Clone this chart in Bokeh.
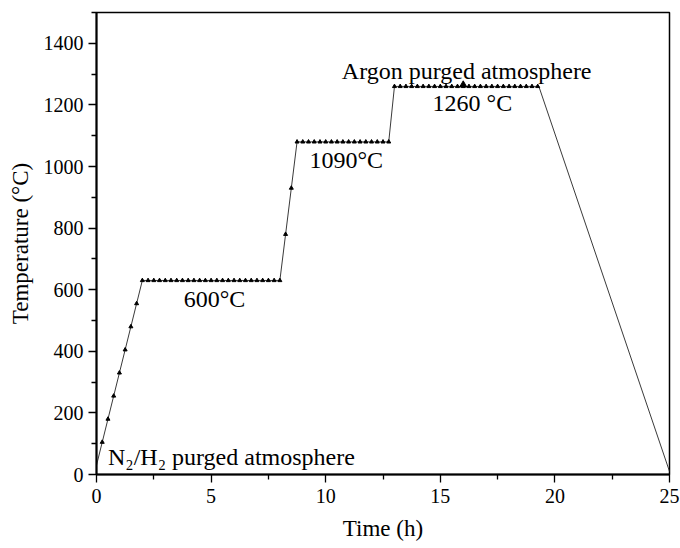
from bokeh.plotting import figure
from bokeh.models import Range1d, FixedTicker, Label
from bokeh.embed import file_html
from bokeh.resources import INLINE

# Heating profile vertices (time in h, temperature in °C)
profile_time = [0.0, 2.0, 8.0, 8.75, 12.75, 13.0, 19.3, 25.0]
profile_temp = [30, 630, 630, 1080, 1080, 1260, 1260, 10]

# Measured points (triangles)
marker_time = [0.25, 0.5, 0.75, 1.0, 1.25, 1.5, 1.75, 2.0,
               2.25, 2.5, 2.75, 3.0, 3.25, 3.5, 3.75, 4.0, 4.25, 4.5, 4.75, 5.0,
               5.25, 5.5, 5.75, 6.0, 6.25, 6.5, 6.75, 7.0, 7.25, 7.5, 7.75, 8.0,
               8.25, 8.5, 8.75,
               9.0, 9.25, 9.5, 9.75, 10.0, 10.25, 10.5, 10.75, 11.0, 11.25, 11.5,
               11.75, 12.0, 12.25, 12.5, 12.75,
               13.0, 13.25, 13.5, 13.75, 14.0, 14.25, 14.5, 14.75, 15.0, 15.25,
               15.5, 15.75, 16.0, 16.25, 16.5, 16.75, 17.0, 17.25, 17.5, 17.75,
               18.0, 18.25, 18.5, 18.75, 19.0, 19.25]
marker_temp = [105, 180, 255, 330, 405, 480, 555, 630,
               630, 630, 630, 630, 630, 630, 630, 630, 630, 630, 630, 630,
               630, 630, 630, 630, 630, 630, 630, 630, 630, 630, 630, 630,
               780, 930, 1080,
               1080, 1080, 1080, 1080, 1080, 1080, 1080, 1080, 1080, 1080, 1080,
               1080, 1080, 1080, 1080, 1080,
               1260, 1260, 1260, 1260, 1260, 1260, 1260, 1260, 1260, 1260,
               1260, 1260, 1260, 1260, 1260, 1260, 1260, 1260, 1260, 1260,
               1260, 1260, 1260, 1260, 1260, 1260]

big_marker_time = [16.0]
big_marker_temp = [1265]

x_ticks = [0, 5, 10, 15, 20, 25]
x_minor = [2.5, 7.5, 12.5, 17.5, 22.5]
y_ticks = [0, 200, 400, 600, 800, 1000, 1200, 1400]
y_minor = [100, 300, 500, 700, 900, 1100, 1300, 1500]

FONT = "Liberation Serif"

p = figure(width=680, height=548, output_backend="svg", toolbar_location=None,
           x_range=Range1d(0, 25), y_range=Range1d(0, 1500),
           min_border_left=96, min_border_right=11, min_border_top=12,
           min_border_bottom=74)

p.line(profile_time, profile_temp, line_color="#3a3a3a", line_width=1)
p.scatter(marker_time, marker_temp, marker="triangle", size=4,
          fill_color="black", line_color="black")
p.scatter(big_marker_time, big_marker_temp, marker="triangle", size=7,
          fill_color="black", line_color="black")

p.grid.visible = False
p.outline_line_color = "black"
p.outline_line_width = 1.5
p.outline_line_alpha = 1.0
p.background_fill_color = "white"
p.border_fill_color = "white"

for ax in (p.xaxis[0], p.yaxis[0]):
    ax.axis_line_color = "black"
    ax.axis_line_width = 2
    ax.major_tick_line_color = "black"
    ax.minor_tick_line_color = "black"
    ax.major_tick_line_width = 1.3
    ax.minor_tick_line_width = 1.3
    ax.major_tick_out = 8
    ax.major_tick_in = 0
    ax.minor_tick_out = 5
    ax.minor_tick_in = 0
    ax.major_label_text_font = FONT
    ax.major_label_text_font_size = "20px"
    ax.major_label_text_color = "black"
    ax.axis_label_text_font = FONT
    ax.axis_label_text_font_size = "23px"
    ax.axis_label_text_font_style = "normal"
    ax.axis_label_text_color = "black"

p.xaxis[0].ticker = FixedTicker(ticks=x_ticks, minor_ticks=x_minor)
p.yaxis[0].ticker = FixedTicker(ticks=y_ticks, minor_ticks=y_minor)
p.xaxis[0].axis_label = "Time (h)"
p.yaxis[0].axis_label = "Temperature (°C)"
p.xaxis[0].major_label_standoff = 6
p.yaxis[0].major_label_standoff = 5
p.xaxis[0].axis_label_standoff = 10
p.yaxis[0].axis_label_standoff = 8

def add_label(x, y, text, align="center"):
    p.add_layout(Label(x=x, y=y, text=text, text_font=FONT,
                       text_font_size="24px", text_color="black",
                       text_align=align, text_baseline="alphabetic"))

add_label(16.15, 1310, "Argon purged atmosphere")
add_label(16.4, 1207, "1260 °C")
add_label(10.9, 1020, "1090°C")
add_label(5.15, 571, "600°C")
add_label(0.5, 56, "N₂/H₂ purged atmosphere", align="left")

open("out.html", "w").write(file_html(p, INLINE))
